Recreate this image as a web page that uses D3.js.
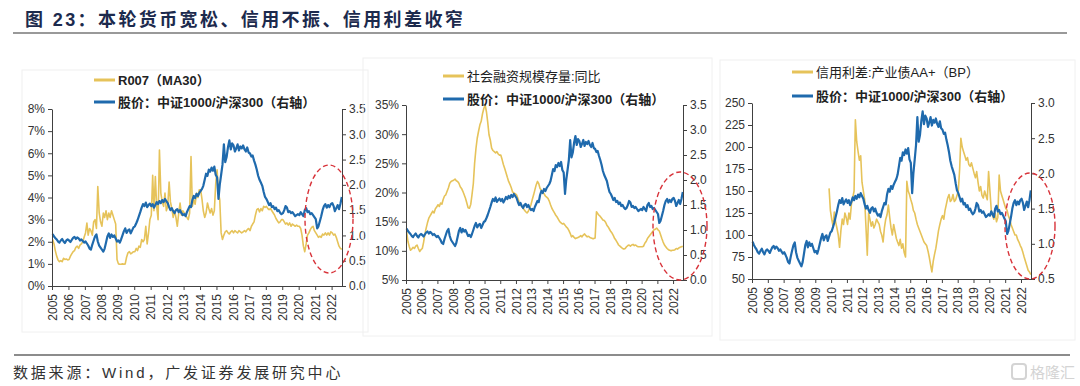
<!DOCTYPE html>
<meta charset="utf-8">
<style>
  body { margin: 0; background: #fff; }
  svg text { font-family: "Liberation Sans", Arial, "Noto Sans CJK SC", sans-serif; }
</style>
<svg id="chart" width="1080" height="386"></svg>
<script src="https://d3js.org/d3.v7.min.js"></script>
<script>

// monthly values, Jan 2005 .. Aug 2022
// 股价：中证1000/沪深300
var stockRatio = [
  1.03, 0.98, 0.95, 0.92, 0.88, 0.86, 0.90, 0.93, 0.88, 0.85, 0.90, 0.92,
  0.90, 0.87, 0.91, 0.95, 0.97, 0.93, 0.96, 0.94, 0.90, 0.92, 0.89, 0.86,
  0.88, 0.84, 0.80, 0.74, 0.72, 0.82, 0.90, 0.98, 1.02, 0.88, 0.80, 0.76,
  0.72, 0.68, 0.74, 0.86, 0.98, 1.04, 0.95, 1.02, 0.97, 1.00, 0.94, 0.88,
  0.90, 0.86, 0.92, 1.00, 1.08, 1.14, 1.05, 1.10, 1.12, 1.04, 1.10, 1.16,
  1.18, 1.24, 1.30, 1.38, 1.46, 1.55, 1.62, 1.58, 1.65, 1.56, 1.60, 1.63,
  1.58, 1.62, 1.55, 1.60, 1.66, 1.62, 1.68, 1.64, 1.70, 1.66, 1.72, 1.68,
  1.64, 1.56, 1.50, 1.54, 1.48, 1.44, 1.50, 1.52, 1.46, 1.50, 1.44, 1.40,
  1.42, 1.38, 1.46, 1.52, 1.58, 1.56, 1.70, 1.78, 1.74, 1.82, 1.78, 1.84,
  1.88, 1.92, 1.98, 2.10, 2.22, 2.18, 2.30, 2.26, 2.34, 2.28, 2.36, 2.20,
  2.15, 1.72, 2.00, 2.20, 2.40, 2.80, 2.45, 2.55, 2.75, 2.88, 2.70, 2.82,
  2.78, 2.66, 2.72, 2.80, 2.68, 2.76, 2.72, 2.78, 2.70, 2.66, 2.74, 2.64,
  2.62, 2.56, 2.58, 2.48, 2.40, 2.30, 2.18, 2.10, 2.04, 1.98, 1.86, 1.76,
  1.72, 1.66, 1.60, 1.64, 1.56, 1.58, 1.52, 1.55, 1.48, 1.50, 1.45, 1.42,
  1.44, 1.50, 1.58, 1.55, 1.46, 1.48, 1.44, 1.46, 1.42, 1.38, 1.40, 1.42,
  1.40, 1.46, 1.42, 1.38, 1.50, 1.54, 1.46, 1.48, 1.42, 1.44, 1.40, 1.36,
  1.32, 1.14, 1.18, 1.28, 1.38, 1.50, 1.58, 1.62, 1.55, 1.60, 1.56, 1.62,
  1.64, 1.58, 1.48, 1.54, 1.60, 1.52, 1.62, 1.76
];

// R007 (MA30), %
var r007 = [
  2.10, 1.90, 1.60, 1.35, 1.18, 1.10, 1.15, 1.10, 1.25, 1.20, 1.22, 1.18,
  1.20, 1.35, 1.45, 1.55, 1.60, 1.75, 1.80, 1.70, 1.85, 1.90, 2.00, 2.20,
  2.40, 2.84, 2.30, 2.60, 2.50, 2.30, 2.90, 3.00, 2.60, 4.50, 3.30, 2.90,
  2.70, 3.30, 3.10, 3.40, 3.00, 3.30, 3.10, 3.40, 3.20, 3.00, 2.80, 1.20,
  1.00, 0.98, 0.98, 1.00, 0.98, 1.00, 1.30, 1.50, 1.55, 1.45, 1.50, 1.55,
  1.55, 1.70, 1.60, 1.80, 1.75, 2.10, 2.00, 2.10, 2.70, 1.90, 2.40, 3.00,
  3.20, 5.00, 3.40, 4.95, 3.60, 3.00, 6.15, 4.20, 3.80, 3.60, 4.20, 3.40,
  3.60, 4.70, 3.80, 3.50, 3.10, 3.40, 3.10, 2.70, 3.30, 3.75, 3.20, 3.40,
  3.30, 3.20, 3.10, 3.00, 3.30, 5.85, 3.60, 3.90, 3.70, 4.20, 4.00, 4.35,
  4.35, 3.90, 3.40, 3.10, 3.30, 3.75, 3.50, 3.30, 3.50, 3.20, 3.40, 4.60,
  5.25, 4.20, 3.90, 2.40, 2.10, 2.30, 2.45, 2.50, 2.40, 2.35, 2.45, 2.50,
  2.40, 2.50, 2.45, 2.40, 2.50, 2.45, 2.40, 2.45, 2.50, 2.45, 2.55, 2.60,
  2.50, 2.70, 2.80, 2.90, 3.20, 3.45, 3.50, 3.35, 3.50, 3.40, 3.60, 3.55,
  3.60, 3.50, 3.45, 3.50, 3.40, 3.30, 3.20, 3.05, 2.95, 2.85, 2.90, 3.00,
  3.00, 2.90, 2.80, 2.85, 2.75, 2.85, 2.70, 2.80, 2.75, 2.70, 2.75, 2.70,
  2.70, 2.60, 2.30, 1.80, 1.55, 1.90, 2.30, 2.40, 2.55, 2.65, 2.70, 2.50,
  2.40, 2.30, 2.20, 2.25, 2.20, 2.35, 2.30, 2.40, 2.30, 2.40, 2.30, 2.45,
  2.40, 2.30, 2.35, 2.20, 2.00, 1.80, 1.70, 1.65
];

// 社会融资规模存量:同比, %
var tsfGrowth = [
  13.3, 11.6, 10.8, 10.1, 10.3, 10.6, 10.4, 10.8, 11.0, 10.4, 9.9, 10.2,
  10.4, 11.5, 12.8, 13.9, 14.8, 15.6, 16.0, 16.4, 16.8, 16.5, 17.2, 17.5,
  17.9, 17.6, 18.2, 18.0, 18.8, 19.4, 19.6, 20.2, 20.8, 21.6, 21.9, 22.0,
  22.1, 22.3, 22.0, 21.9, 21.6, 21.0, 20.7, 20.2, 19.6, 19.0, 18.2, 17.4,
  17.3, 18.0, 19.6, 21.5, 25.0, 27.5, 29.3, 30.5, 31.6, 32.2, 33.5, 34.4,
  35.0, 33.8, 32.1, 29.9, 29.0, 27.6, 27.2, 27.0, 26.8, 27.0, 26.6, 26.4,
  26.4, 25.6, 24.8, 24.1, 23.4, 22.6, 21.9, 21.4, 20.8, 20.1, 19.9, 19.8,
  19.6, 19.0, 18.4, 18.0, 17.6, 17.3, 17.0, 16.7, 16.5, 16.8, 17.3, 17.9,
  18.8, 19.6, 20.4, 21.3, 21.9, 21.5, 20.7, 20.4, 20.0, 19.8, 19.4, 19.2,
  19.0, 18.5, 17.9, 17.3, 16.9, 16.5, 16.1, 15.8, 15.4, 15.0, 14.8, 14.6,
  14.7, 14.4, 14.1, 13.9, 13.5, 13.0, 12.4, 12.6, 12.3, 12.1, 12.2, 12.3,
  12.4, 12.6, 12.4, 12.7, 12.9, 12.6, 12.4, 12.5, 12.3, 12.2, 12.1, 12.1,
  12.2, 16.7, 16.4, 16.1, 15.9, 15.6, 15.3, 15.2, 14.9, 14.4, 14.1, 13.7,
  13.3, 13.0, 12.6, 12.1, 11.8, 11.4, 11.0, 10.8, 10.6, 10.4, 10.3, 10.4,
  10.7, 10.9, 11.0, 10.8, 11.0, 11.1, 10.9, 11.0, 10.8, 10.7, 10.7, 10.7,
  10.7, 10.8, 11.3, 11.6, 12.1, 12.4, 12.7, 13.0, 13.3, 13.6, 13.7, 13.9,
  13.6, 13.4, 12.8, 12.1, 11.5, 11.0, 10.7, 10.4, 10.2, 10.1, 10.0, 10.1,
  10.1, 10.2, 10.4, 10.3, 10.5, 10.6, 10.7, 10.8
];

// 信用利差:产业债AA+, BP, monthly from Nov 2009
var spreadStartMonth = 58;
var creditSpread = [
  153, 128,
  118, 110, 126, 115, 108, 100, 86, 105, 118, 112, 125, 120,
  112, 125, 118, 135, 142, 150, 231, 206, 195, 185, 190, 160,
  150, 140, 110, 77, 125, 118, 110, 115, 108, 112, 118, 115,
  112, 104, 100, 92, 108, 118, 123, 134, 120, 108, 100, 112,
  104, 96, 92, 88, 95, 85, 90, 80, 75, 161, 150, 146,
  140, 135, 128, 125, 118, 112, 108, 104, 100, 96, 92, 90,
  88, 82, 75, 66, 58, 70, 78, 85, 95, 105, 112, 118,
  122, 118, 128, 135, 142, 146, 138, 140, 146, 138, 140, 145,
  150, 175, 210, 200, 195, 190, 185, 188, 180, 178, 182, 176,
  170, 165, 172, 160, 150, 155, 145, 142, 150, 145, 140, 172,
  150, 128, 122, 118, 125, 115, 120, 168, 150, 145, 140, 135,
  130, 128, 122, 118, 112, 108, 104, 100, 100, 95, 92, 88,
  85, 80, 75, 70, 65, 60, 58, 55
];

var stockName = "股价：中证1000/沪深300（右轴）";
var leftNames = ["R007（MA30）", "社会融资规模存量:同比", "信用利差:产业债AA+（BP）"];
var titleText = "图 23：本轮货币宽松、信用不振、信用利差收窄";
var sourceText = "数据来源：Wind，广发证券发展研究中心";

var gold = "#e6c35a", blue = "#1f6aad", axisColor = "#404040";

var svg = d3.select("#chart");

function toPoints(values, start) {
  return values.map(function(v, i) { return {date: new Date(2005, start + i, 15), v: v}; });
}

var panels = [
  {left: 52, right: 342, top: 109, bottom: 286, yDomain: [0, 8], yTicks: d3.range(0, 9),
   yFmt: function(d) { return d + "%"; }, rDomain: [0, 3.5], rTicks: d3.range(0, 3.51, 0.5),
   series: toPoints(r007, 0), name: leftNames[0], nameBold: true,
   legendX: 94, legendY: [80, 102], ellipse: [329, 219, 24, 54], box: [22, 70, 346, 262]},
  {left: 406, right: 683, top: 105, bottom: 280, yDomain: [5, 35], yTicks: d3.range(5, 36, 5),
   yFmt: function(d) { return d + "%"; }, rDomain: [0, 3.5], rTicks: d3.range(0, 3.51, 0.5),
   series: toPoints(tsfGrowth, 0), name: leftNames[1], nameBold: false,
   legendX: 443, legendY: [76, 99], ellipse: [680, 226, 27, 54], box: [363, 58, 349, 278]},
  {left: 752, right: 1031, top: 103, bottom: 279, yDomain: [50, 250], yTicks: d3.range(50, 251, 25),
   yFmt: function(d) { return d; }, rDomain: [0.5, 3.0], rTicks: d3.range(0.5, 3.01, 0.5),
   series: toPoints(creditSpread, spreadStartMonth), name: leftNames[2], nameBold: false,
   legendX: 792, legendY: [72, 96], ellipse: [1030, 226, 25, 53], box: [720, 60, 355, 280]}
];

var xDomain = [new Date(2005, 0, 1), new Date(2022, 7, 20)];
var stockPoints = toPoints(stockRatio, 0);

// title + rules
svg.append("text")
  .attr("x", 25).attr("y", 26)
  .attr("font-size", 18).attr("font-weight", "bold")
  .attr("letter-spacing", 2.4)
  .attr("fill", "#1c2a4d")
  .text(titleText);

svg.append("line").attr("x1", 13).attr("x2", 1067).attr("y1", 33).attr("y2", 33)
  .attr("stroke", "#777").attr("stroke-width", 1.6);
svg.append("line").attr("x1", 14).attr("x2", 1070).attr("y1", 355).attr("y2", 355)
  .attr("stroke", "#666").attr("stroke-width", 1.4);

svg.append("text")
  .attr("x", 13).attr("y", 378)
  .attr("font-size", 15).attr("letter-spacing", 2.8)
  .attr("fill", "#333")
  .text(sourceText);

// watermark
var wm = svg.append("g").attr("transform", "translate(1012,364)").attr("opacity", 0.5);
wm.append("rect").attr("x", 0).attr("y", 0).attr("width", 14).attr("height", 15).attr("rx", 3)
  .attr("fill", "none").attr("stroke", "#aaa").attr("stroke-width", 2);
wm.append("text").attr("x", 18).attr("y", 14).attr("font-size", 15).attr("fill", "#aaa").text("格隆汇");

panels.forEach(function(p, idx) {
  var g = svg.append("g");

  g.append("rect")
    .attr("x", p.box[0]).attr("y", p.box[1]).attr("width", p.box[2]).attr("height", p.box[3])
    .attr("fill", "none").attr("stroke", "#f0f0f0");

  var x = d3.scaleTime().domain(xDomain).range([p.left, p.right]);
  var y = d3.scaleLinear().domain(p.yDomain).range([p.bottom, p.top]);
  var yr = d3.scaleLinear().domain(p.rDomain).range([p.bottom, p.top]);

  var line = d3.line().x(function(d) { return x(d.date); }).y(function(d) { return y(d.v); });
  var lineR = d3.line().x(function(d) { return x(d.date); }).y(function(d) { return yr(d.v); });

  g.append("path").datum(p.series)
    .attr("fill", "none").attr("stroke", gold).attr("stroke-width", 1.6)
    .attr("stroke-linejoin", "round").attr("d", line);

  g.append("path").datum(stockPoints)
    .attr("fill", "none").attr("stroke", blue).attr("stroke-width", 2.2)
    .attr("stroke-linejoin", "round").attr("d", lineR);

  // axes
  var ax = g.append("g").attr("transform", "translate(0," + p.bottom + ")")
    .call(d3.axisBottom(x).ticks(d3.timeYear.every(1)).tickFormat(d3.timeFormat("%Y"))
      .tickSize(4).tickSizeOuter(0));
  ax.selectAll("text")
    .attr("y", 0).attr("x", -8).attr("dy", "0.35em")
    .attr("transform", "rotate(-90)")
    .style("text-anchor", "end");

  var al = g.append("g").attr("transform", "translate(" + p.left + ",0)")
    .call(d3.axisLeft(y).tickValues(p.yTicks).tickFormat(p.yFmt).tickSize(4).tickSizeOuter(0).tickPadding(3));

  var ar = g.append("g").attr("transform", "translate(" + p.right + ",0)")
    .call(d3.axisRight(yr).tickValues(p.rTicks).tickFormat(d3.format(".1f")).tickSize(4).tickSizeOuter(0).tickPadding(3));

  [ax, al, ar].forEach(function(a) {
    a.selectAll("path, line").attr("stroke", axisColor);
    a.selectAll("text").attr("fill", "#333").attr("font-size", 12)
      .attr("font-family", "'Liberation Sans', Arial, sans-serif");
  });

  // legend
  var names = [p.name, stockName];
  var colors = [gold, blue];
  names.forEach(function(n, i) {
    g.append("line")
      .attr("x1", p.legendX).attr("x2", p.legendX + 21)
      .attr("y1", p.legendY[i]).attr("y2", p.legendY[i])
      .attr("stroke", colors[i]).attr("stroke-width", 3);
    g.append("text")
      .attr("x", p.legendX + 24).attr("y", p.legendY[i])
      .attr("dy", "0.36em")
      .attr("font-size", 13)
      .attr("font-weight", (i == 1 || p.nameBold) ? "bold" : "normal")
      .attr("fill", "#222")
      .text(n);
  });

  // highlight ellipse
  g.append("ellipse")
    .attr("cx", p.ellipse[0]).attr("cy", p.ellipse[1])
    .attr("rx", p.ellipse[2]).attr("ry", p.ellipse[3])
    .attr("fill", "none").attr("stroke", "#d8333a")
    .attr("stroke-width", 1.4).attr("stroke-dasharray", "5,3");
});

</script>
